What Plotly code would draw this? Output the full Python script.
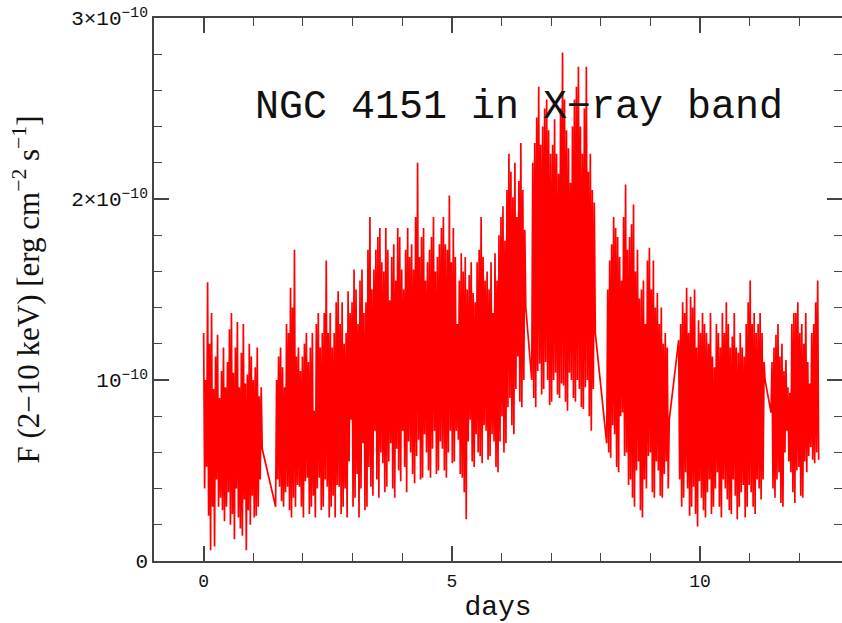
import plotly.graph_objects as go

# Flux in units of 1e-12 erg cm^-2 s^-1, sampled every BIN_DAYS within each observing segment
BIN_DAYS = 0.02
seg_start = [0.0, 1.45, 6.61, 8.12, 9.57, 11.43]

seg_a = [126, 40, 100, 52, 154, 25, 120, 6, 137, 30, 95, 8, 113, 45, 125, 30,
         90, 35, 105, 28, 118, 22, 96, 30, 110, 38, 128, 20, 137, 26, 104, 12,
         118, 40, 132, 24, 96, 18, 115, 14, 131, 34, 98, 6, 103, 28, 120, 20,
         113, 36, 100, 24, 107, 25, 118, 30, 91, 45, 96, 62]
seg_b = [30, 100, 45, 113, 41, 118, 33, 107, 30, 96, 38, 131, 41, 126, 28, 151,
         24, 140, 35, 172, 30, 113, 42, 118, 41, 105, 30, 113, 24, 120, 44, 126,
         46, 110, 26, 118, 30, 126, 36, 83, 24, 131, 40, 137, 46, 118, 28, 126,
         30, 137, 45, 166, 41, 126, 24, 137, 30, 118, 36, 126, 24, 143, 42, 149,
         41, 131, 26, 143, 30, 120, 40, 126, 24, 149, 55, 137, 78, 143, 30, 161,
         35, 150, 48, 131, 24, 155, 40, 161, 65, 137, 28, 143, 30, 172, 52, 190,
         41, 150, 36, 161, 72, 172, 45, 179, 35, 184, 60, 165, 54, 160, 38, 184,
         41, 172, 55, 144, 65, 168, 40, 175, 35, 155, 62, 184, 50, 179, 44, 161,
         72, 150, 52, 172, 38, 184, 66, 168, 60, 175, 48, 161, 43, 190, 58, 220,
         67, 168, 45, 179, 46, 184, 70, 155, 60, 165, 50, 172, 46, 179, 62, 190,
         72, 160, 48, 168, 50, 175, 66, 184, 62, 190, 50, 175, 46, 172, 60, 202,
         72, 165, 54, 184, 55, 168, 72, 131, 67, 155, 48, 170, 46, 160, 38, 168,
         23, 150, 66, 158, 78, 165, 55, 148, 52, 143, 70, 165, 60, 172, 58, 190,
         54, 168, 75, 155, 72, 160, 56, 150, 58, 165, 70, 137, 66, 170, 52, 155,
         49, 180, 66, 190, 80, 196, 60, 177, 65, 205, 85, 225, 90, 215, 75, 201,
         70, 220, 95, 190, 113, 210, 88, 231, 85, 205, 100, 183, 140]
seg_c = [100, 220, 90, 231, 85, 245, 105, 262, 109, 230, 92, 240, 95, 250, 110, 255,
         100, 238, 86, 225, 88, 230, 100, 244, 104, 225, 92, 214, 90, 250, 98, 281,
         97, 255, 88, 238, 83, 228, 104, 209, 100, 240, 90, 255, 88, 262, 100, 273,
         95, 240, 85, 225, 84, 250, 96, 273, 100, 215, 80, 225, 72, 205, 95, 198, 126]
seg_d = [65, 150, 60, 166, 57, 175, 75, 190, 70, 184, 52, 179, 49, 168, 80, 155,
         82, 190, 58, 208, 60, 172, 42, 179, 45, 186, 35, 197, 30, 160, 50, 172,
         55, 145, 28, 150, 24, 155, 45, 131, 40, 166, 58, 173, 60, 150, 38, 166,
         35, 140, 55, 148, 50, 131, 36, 140, 35, 120, 48, 126, 55, 118, 40, 78]
seg_e = [122, 45, 131, 30, 143, 35, 137, 49, 151, 40, 126, 25, 146, 30, 140, 41,
         150, 26, 118, 19, 133, 44, 126, 35, 137, 28, 131, 24, 126, 38, 120, 45,
         137, 26, 113, 30, 107, 40, 131, 49, 126, 30, 118, 24, 137, 45, 126, 40,
         143, 34, 131, 28, 118, 26, 124, 45, 137, 36, 118, 23, 115, 30, 126, 38,
         118, 42, 113, 24, 131, 30, 143, 42, 155, 38, 131, 30, 137, 26, 126, 45,
         131, 40, 137, 34, 126, 45, 110, 100]
seg_f = [82, 110, 40, 118, 35, 125, 45, 131, 49, 113, 32, 120, 30, 105, 60, 111,
         72, 96, 55, 93, 49, 131, 38, 137, 32, 137, 50, 143, 52, 126, 36, 131,
         35, 120, 55, 137, 49, 110, 58, 98, 63, 126, 56, 131, 54, 143, 60, 155, 56]

segments = [seg_a, seg_b, seg_c, seg_d, seg_e, seg_f]

y_tick_vals = [0, 1e-10, 2e-10, 3e-10]
y_tick_text = ["0", "10<sup>−10</sup>", "2×10<sup>−10</sup>", "3×10<sup>−10</sup>"]
x_tick_vals = [0, 5, 10]
x_tick_text = ["0", "5", "10"]

days, flux = [], []
for t0, vals in zip(seg_start, segments):
    for i, v in enumerate(vals):
        days.append(t0 + i * BIN_DAYS)
        flux.append(v * 1e-12)

fig = go.Figure()
fig.add_trace(go.Scatter(x=days, y=flux, mode="lines",
                         line=dict(color="#ff0000", width=1.7),
                         showlegend=False, hoverinfo="skip"))

axis_common = dict(
    showgrid=False, zeroline=False, showline=True, linecolor="#444444",
    linewidth=1.6, mirror="allticks", ticks="inside", tickcolor="#444444",
    tickwidth=1.6, ticklen=15,
)

fig.update_xaxes(
    range=[-1.0, 12.86], tickvals=x_tick_vals, ticktext=x_tick_text,
    minor=dict(dtick=1, tick0=0, ticks="inside", ticklen=8, tickcolor="#444444", tickwidth=1.3),
    tickfont=dict(family="Liberation Mono", size=18, color="#111111"),
    ticklabelstandoff=3,
    title=dict(text="days", font=dict(family="Liberation Mono", size=28, color="#111111"), standoff=6),
    **axis_common,
)
fig.update_yaxes(
    range=[0, 3e-10], tickvals=y_tick_vals, ticktext=y_tick_text,
    ticksuffix="\u2009\u2009",
    minor=dict(dtick=0.2e-10, tick0=0, ticks="inside", ticklen=8, tickcolor="#444444", tickwidth=1.3),
    tickfont=dict(family="Liberation Mono", size=21, color="#111111"),
    title=dict(text="F (2−10 keV) [erg cm<sup>−2</sup> s<sup>−1</sup>]",
               font=dict(family="Liberation Serif", size=31, color="#111111"), standoff=22),
    **axis_common,
)

fig.add_annotation(
    text="NGC 4151 in X−ray band", xref="paper", yref="paper",
    x=0.53, y=0.835, xanchor="center", yanchor="middle", showarrow=False,
    font=dict(family="Liberation Mono", size=40, color="#111111"),
)

fig.update_layout(
    width=842, height=623,
    margin=dict(l=154, r=0, t=18, b=62, autoexpand=False),
    paper_bgcolor="white", plot_bgcolor="white",
)

fig.write_html("out.html")
